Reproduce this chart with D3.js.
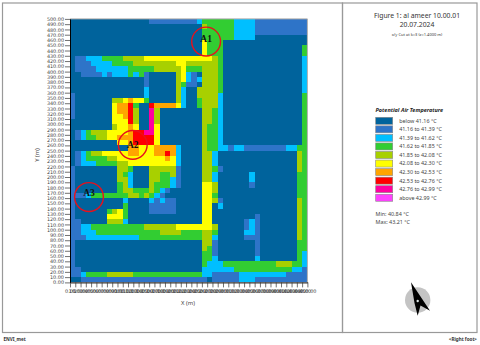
<!DOCTYPE html>
<html>
<head>
<meta charset="utf-8">
<script src="https://cdn.jsdelivr.net/npm/d3@7"></script>
<style>
html, body { margin: 0; padding: 0; background: #fff; }
svg { display: block; }
text { font-family: "Noto Sans", "DejaVu Sans", sans-serif; }
</style>
</head>
<body>
<svg></svg>
<script>
// temperature class of each 10 m cell, top row (y 490-500) first, 0 = coldest class
const gridRows = [
  "00000 00000 00000 11111 11112 33333 32222 11111 11111",
  "00000 00000 00000 00000 00000 43333 32222 11111 11111",
  "00000 00000 00000 00000 00000 33333 32222 11111 11111",
  "00000 00000 00000 00000 00000 33333 32222 00000 00000",
  "00000 00000 00000 00000 00000 53330 00000 00000 00000",
  "00000 00000 00000 00000 00000 53330 00000 00000 00003",
  "00000 00000 00000 00000 00000 53330 00000 00000 00003",
  "01122 23333 44445 55555 55555 55430 00000 00000 00002",
  "01112 22233 33444 44444 55444 44430 00000 00000 00002",
  "01111 22222 23333 34444 45333 44430 00000 00000 00002",
  "00111 12122 23231 00000 45210 44430 00000 00000 00002",
  "00000 00000 00001 00000 45212 44430 00000 00000 00002",
  "00000 00000 00001 00000 43110 44430 00000 00000 00002",
  "00000 00000 00002 00000 42004 44430 00000 00000 00002",
  "10000 00000 00002 00000 42004 44420 00000 00000 00003",
  "10000 00044 56553 00000 42003 44420 00000 00000 00003",
  "10000 00056 67300 76666 52003 44420 00000 00000 00003",
  "10000 00056 67400 84000 00000 44320 00000 00000 00003",
  "10000 00055 67400 84000 00000 44320 00000 00000 00003",
  "00000 00055 57400 84000 00000 44320 00000 00000 00003",
  "00000 00045 56500 85000 00000 43320 00000 00000 00003",
  "01234 44555 56778 85000 00000 43320 00000 00000 00003",
  "01233 44556 66777 75000 00000 43320 00000 00000 00003",
  "00000 00005 56777 75000 00000 43320 00000 00000 00003",
  "00000 00000 06655 56666 20000 43322 12211 11111 12233",
  "01234 45555 56655 56676 20000 44200 00000 00000 00043",
  "01233 33445 55555 55565 20000 44200 00000 00000 00043",
  "01222 33334 45555 55555 20000 44200 00000 00000 00043",
  "10000 00004 43000 44444 10000 44310 00000 00000 00043",
  "10000 00004 32000 44334 10000 44200 00002 00000 00033",
  "10000 00004 42000 44332 10000 44200 00002 00000 00033",
  "10000 00003 42000 43332 10000 55400 00001 00000 00033",
  "10000 00003 44333 43210 00000 55400 00000 00000 00033",
  "11123 33333 34434 32100 00000 55300 00000 00000 00033",
  "10000 00000 20000 21211 00000 55410 00000 00000 00043",
  "10000 00000 30000 11111 00000 55020 00000 00000 00043",
  "10000 00345 30000 11111 00000 55000 00000 00000 00043",
  "10000 00555 30000 00000 00000 55000 00000 10000 00043",
  "11000 00444 20000 00000 00000 55000 00012 10000 00043",
  "11223 33333 33334 44444 55555 55400 00012 10000 00043",
  "11222 33333 33333 33444 43333 44300 00022 10000 00043",
  "11122 22222 22233 33333 33333 44200 00011 10000 00043",
  "10000 00000 00000 00000 00000 44100 00000 10000 00033",
  "10000 00000 00000 00000 00000 43100 00000 10000 00033",
  "10000 00000 00000 00000 00000 33100 00000 10000 00032",
  "10000 00000 00000 00000 00000 33200 00000 20000 00032",
  "10000 00000 00000 00000 00000 32223 33333 33334 44332",
  "11000 00000 00000 00000 00000 22222 23333 33333 33221",
  "11233 33444 44333 33333 33333 22111 11222 22222 21111",
  "00111 11111 11111 11111 11111 10111 11222 11111 11111"
];
const classTemps = [41.05, 41.27, 41.50, 41.73, 41.96, 42.19, 42.41, 42.64, 42.87, 43.10];
const thresholds = [41.16, 41.39, 41.62, 41.85, 42.08, 42.30, 42.53, 42.76, 42.99];
const colors = ["#00639c", "#2e74c8", "#00bfff", "#32cd32", "#a8d000", "#ffff00", "#ffa500", "#ff0000", "#ff00a0", "#ff40ff"];
const legendLabels = [
  "below 41.16 °C", "41.16 to 41.39 °C", "41.39 to 41.62 °C", "41.62 to 41.85 °C", "41.85 to 42.08 °C",
  "42.08 to 42.30 °C", "42.30 to 42.53 °C", "42.53 to 42.76 °C", "42.76 to 42.99 °C", "above 42.99 °C"
];
const xTicks = d3.range(0, 460, 10);
const yTicks = d3.range(0, 510, 10);
const siteNames = ["A1", "A2", "A3"];
const siteX = [258, 119, 36];
const siteY = [457, 261, 162];

const w = 480;
const h = 345;
const cell = 10;
let svg = d3.select("svg").attr("width", w).attr("height", h);
let xScale = d3.scaleLinear().domain([0, 450]).range([70, 307.4]);
let yScale = d3.scaleLinear().domain([0, 500]).range([282.4, 18.9]);
let colorScale = d3.scaleThreshold().domain(thresholds).range(colors);

let drawFrames = () => {
    svg.append("rect").attr("x", 2.5).attr("y", 3).attr("width", 340).attr("height", 329.5)
       .attr("fill", "none").attr("stroke", "#999").attr("stroke-width", 1.2);
    svg.append("rect").attr("x", 342.5).attr("y", 3).attr("width", 134.5).attr("height", 329.5)
       .attr("fill", "none").attr("stroke", "#999").attr("stroke-width", 1.2);
}

let drawCells = () => {
    let cells = [];
    gridRows.forEach((row, r) => {
        row.replace(/ /g, "").split("").forEach((c, i) => {
            cells.push({ x: i * cell, y: (gridRows.length - 1 - r) * cell, t: classTemps[+c] });
        });
    });
    svg.append("g").attr("shape-rendering", "crispEdges").selectAll("rect")
       .data(cells)
       .enter()
       .append("rect")
       .attr("x", (d) => xScale(d.x))
       .attr("y", (d) => yScale(d.y + cell))
       .attr("width", xScale(cell) - xScale(0))
       .attr("height", yScale(0) - yScale(cell))
       .attr("fill", (d) => colorScale(d.t));
}

let drawAxes = () => {
    // light border on the top and right of the plot
    svg.append("path")
       .attr("d", `M${xScale(0)},${yScale(500)}H${xScale(450)}V${yScale(0)}`)
       .attr("fill", "none").attr("stroke", "#aaa");

    let xAxis = d3.axisBottom(xScale).tickValues(xTicks).tickFormat(d3.format(".2f")).tickSize(5).tickPadding(2.5).tickSizeOuter(0);
    let yAxis = d3.axisLeft(yScale).tickValues(yTicks).tickFormat(d3.format(".2f")).tickSize(5).tickPadding(1).tickSizeOuter(0);
    let gx = svg.append("g").attr("transform", `translate(0, ${yScale(0)})`).call(xAxis);
    let gy = svg.append("g").attr("transform", `translate(${xScale(0)}, 0)`).call(yAxis);
    [gx, gy].forEach((g) => {
        g.selectAll("text").style("font-family", '"DejaVu Sans"').style("font-size", "4.9px").attr("fill", "#444");
        g.selectAll("line").attr("stroke", "#333").attr("stroke-width", 0.7);
        g.select(".domain").attr("stroke", "#000").attr("stroke-width", 1);
    });

    svg.append("text").attr("x", 188).attr("y", 305).attr("text-anchor", "middle")
       .attr("font-size", 5.8).attr("fill", "#444").text("X (m)");
    svg.append("text").attr("transform", "translate(39, 155) rotate(-90)").attr("text-anchor", "middle")
       .attr("font-size", 5.8).attr("fill", "#444").text("Y (m)");
}

let drawSites = () => {
    let g = svg.append("g").selectAll("g")
       .data(siteNames)
       .enter()
       .append("g")
       .attr("transform", (d, i) => `translate(${xScale(siteX[i])}, ${yScale(siteY[i])})`);
    g.append("circle").attr("r", 14.4).attr("fill", "none").attr("stroke", "#e8101c").attr("stroke-width", 1.4);
    g.append("text")
     .attr("y", (d, i) => [0, 3.5, -1][i])
     .attr("text-anchor", "middle")
     .style("font-family", '"Liberation Serif", serif')
     .attr("font-size", 9.5)
     .attr("font-weight", "bold")
     .attr("fill", "#111")
     .text((d) => d);
}

let drawTitle = () => {
    svg.append("text").attr("x", 417).attr("y", 18).attr("text-anchor", "middle")
       .attr("font-size", 6.8).attr("fill", "#333").text("Figure 1: al ameer 10.00.01");
    svg.append("text").attr("x", 417).attr("y", 26.5).attr("text-anchor", "middle")
       .attr("font-size", 6.8).attr("fill", "#333").text("20.07.2024");
    svg.append("text").attr("x", 417).attr("y", 36).attr("text-anchor", "middle")
       .attr("font-size", 4).attr("fill", "#333").text("x/y Cut at k=3 (z=1.4000 m)");
    svg.append("text").attr("x", 3.5).attr("y", 340.5).attr("font-size", 4.6)
       .attr("font-weight", "bold").attr("fill", "#333").text("ENVI_met");
    svg.append("text").attr("x", 477).attr("y", 340.5).attr("text-anchor", "end").attr("font-size", 4.6)
       .attr("font-weight", "bold").attr("fill", "#333").text("<Right foot>");
}

let drawLegend = () => {
    svg.append("text").attr("x", 375.5).attr("y", 111.5).attr("font-size", 5.5)
       .attr("font-weight", "bold").attr("font-style", "italic").attr("fill", "#222")
       .text("Potential Air Temperature");
    let rows = svg.append("g").selectAll("g")
       .data(legendLabels)
       .enter()
       .append("g")
       .attr("transform", (d, i) => `translate(375.7, ${117.3 + i * 8.55})`);
    rows.append("rect").attr("width", 17).attr("height", 7)
        .attr("fill", (d, i) => colorScale(classTemps[i]))
        .attr("stroke", "#888").attr("stroke-width", 0.6);
    rows.append("text").attr("x", 23.5).attr("y", 5.4).attr("font-size", 5.4).attr("fill", "#444").text((d) => d);

    svg.append("text").attr("x", 375.5).attr("y", 216).attr("font-size", 5.4).attr("fill", "#444").text("Min: 40.84 °C");
    svg.append("text").attr("x", 375.5).attr("y", 224).attr("font-size", 5.4).attr("fill", "#444").text("Max: 43.21 °C");
}

let drawNorth = () => {
    let g = svg.append("g");
    g.append("circle").attr("cx", 417.7).attr("cy", 300).attr("r", 12.7).attr("fill", "#c4c4c4");
    g.append("path").attr("d", "M411,282.3L430,310.7L420.5,305.5L417.7,315.7L414.5,303Z").attr("fill", "#000");
    g.append("circle").attr("cx", 417.7).attr("cy", 301).attr("r", 1.2).attr("fill", "#dfe8e8");
}

drawFrames()
drawCells()
drawAxes()
drawSites()
drawTitle()
drawLegend()
drawNorth()
</script>
</body>
</html>
